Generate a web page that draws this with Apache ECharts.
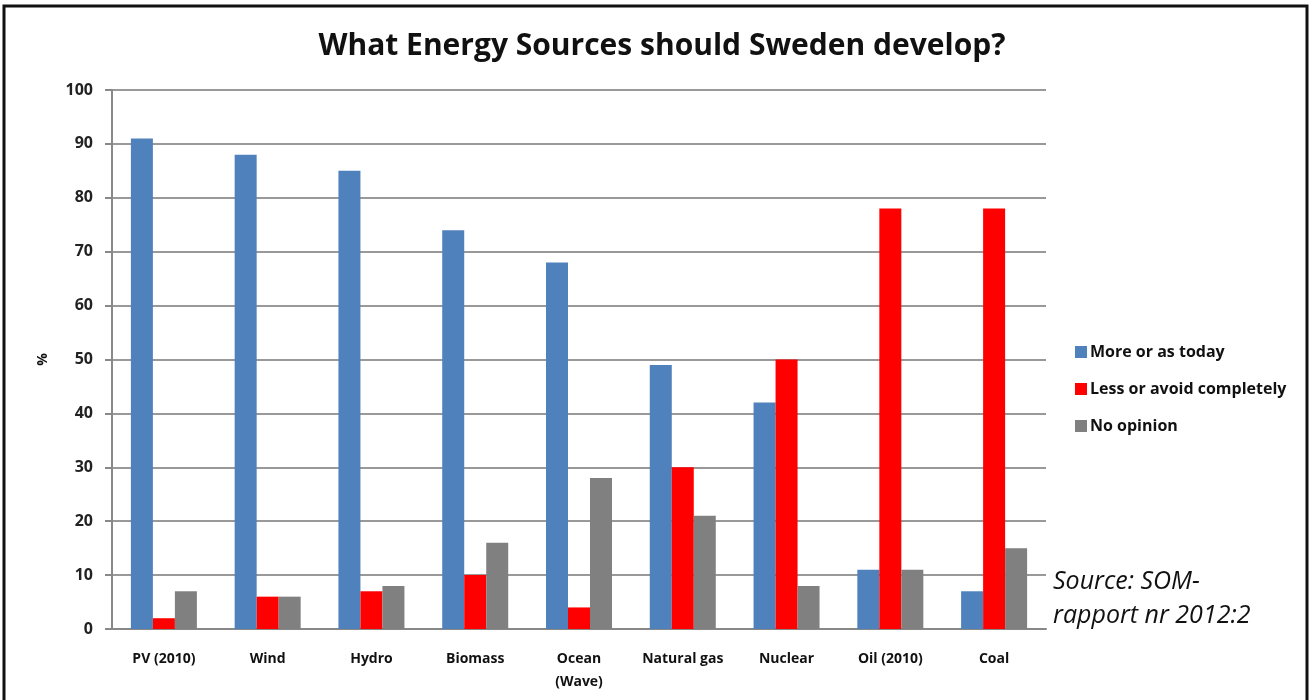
<!DOCTYPE html>
<html>
<head>
<meta charset="utf-8">
<script src="https://cdn.jsdelivr.net/npm/echarts@6/dist/echarts.min.js"></script>
<style>
  html, body { margin: 0; padding: 0; background: #fff; }
  #chart { width: 1311px; height: 700px; }
</style>
</head>
<body>
<div id="chart"></div>
<script>
var categories = ['PV (2010)', 'Wind', 'Hydro', 'Biomass', 'Ocean\n(Wave)', 'Natural gas', 'Nuclear', 'Oil (2010)', 'Coal'];
var moreOrAsToday = [91, 88, 85, 74, 68, 49, 42, 11, 7];
var lessOrAvoid = [2, 6, 7, 10, 4, 30, 50, 78, 78];
var noOpinion = [7, 6, 8, 16, 28, 21, 8, 11, 15];
var seriesNames = ['More or as today', 'Less or avoid completely', 'No opinion'];
var yTicks = [0, 10, 20, 30, 40, 50, 60, 70, 80, 90, 100];

var chart = echarts.init(document.getElementById('chart'));

var font = '"Open Sans", "DejaVu Sans", sans-serif';

var option = {
    animation: false,
    backgroundColor: '#fff',
    title: {
        text: 'What Energy Sources should Sweden develop?',
        left: 657,
        top: 26,
        textAlign: 'center',
        textStyle: { fontFamily: '"Open Sans", sans-serif', fontSize: 30, fontWeight: 'bold', color: '#111' }
    },
    legend: {
        orient: 'vertical',
        left: 1070,
        top: 339,
        itemGap: 21,
        itemWidth: 12,
        itemHeight: 12,
        icon: 'rect',
        textStyle: { fontFamily: font, fontSize: 16, fontWeight: 'bold', color: '#111', padding: [0, 0, 0, -2] },
        data: seriesNames
    },
    grid: { left: 112, right: 265, top: 90, bottom: 71 },
    xAxis: {
        type: 'category',
        data: categories,
        axisLine: { lineStyle: { color: '#888', width: 2 } },
        axisTick: { show: false },
        axisLabel: { fontFamily: font, fontSize: 14, fontWeight: 'bold', color: '#111', margin: 19, lineHeight: 23, interval: 0 }
    },
    yAxis: {
        type: 'value',
        min: yTicks[0],
        max: yTicks[yTicks.length - 1],
        interval: 10,
        name: '%',
        nameLocation: 'middle',
        nameGap: 62,
        nameRotate: 90,
        nameTextStyle: { fontFamily: font, fontSize: 14, fontWeight: 'bold', color: '#111' },
        axisLine: { show: true, lineStyle: { color: '#888', width: 2 } },
        axisTick: { show: true, length: 7, lineStyle: { color: '#888', width: 2 } },
        axisLabel: { fontFamily: font, fontSize: 16, fontWeight: 'bold', color: '#222', margin: 19 },
        splitLine: { lineStyle: { color: '#999', width: 2 } }
    },
    series: [
        { name: seriesNames[0], type: 'bar', data: moreOrAsToday, itemStyle: { color: '#4F81BD' }, barWidth: 22, barGap: '0%' },
        { name: seriesNames[1], type: 'bar', data: lessOrAvoid, itemStyle: { color: '#FF0000' }, barWidth: 22, barGap: '0%' },
        { name: seriesNames[2], type: 'bar', data: noOpinion, itemStyle: { color: '#808080' }, barWidth: 22, barGap: '0%' }
    ],
    graphic: [
        {
            type: 'rect',
            shape: { x: 4, y: 6, width: 1303, height: 710 },
            style: { fill: 'none', stroke: '#111', lineWidth: 3 },
            silent: true
        },
        {
            type: 'text',
            left: 1053,
            top: 565,
            style: {
                text: 'Source: SOM-\nrapport nr 2012:2',
                font: 'italic 25px "Open Sans", "DejaVu Sans", sans-serif',
                lineHeight: 34,
                fill: '#111'
            }
        }
    ]
};

chart.setOption(option);
</script>
</body>
</html>
